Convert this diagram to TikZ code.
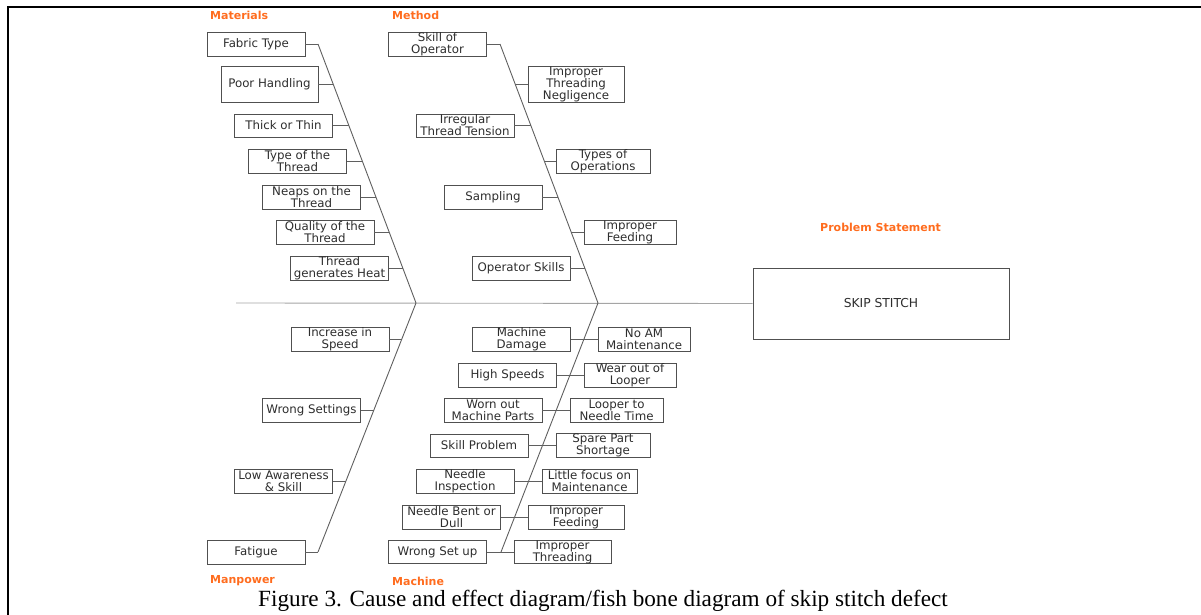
\documentclass[tikz,border=0pt]{standalone}
\usepackage{fontspec}
\setmainfont{DejaVu Sans}
\newfontfamily\capfont{Liberation Serif}
\definecolor{lbl}{RGB}{255,108,30}
\definecolor{txt}{RGB}{45,45,45}
\definecolor{brd}{RGB}{80,80,80}
\definecolor{bone}{RGB}{95,95,95}
\definecolor{mainln}{RGB}{165,165,165}
\tikzset{
  bx/.style={draw=brd, line width=0.9pt, text=txt, align=center, inner sep=0pt,
    minimum width=98pt, minimum height=24pt, font=\fontsize{11.8}{12}\selectfont},
  catlbl/.style={anchor=west, text=lbl, inner sep=0pt, font=\fontsize{11}{13}\selectfont\bfseries},
  bonel/.style={draw=bone, line width=0.9pt},
}
\begin{document}
\begin{tikzpicture}[x=1pt,y=-1pt]
\useasboundingbox (0,0) rectangle (1201,615);
% frame
\draw[line width=2pt] (7.5,615) -- (7.5,7.5) -- (1201,7.5);

% category labels
\node[catlbl] (lmat) at (210,15) {Materials};
\node[catlbl] (lmet) at (392,15) {Method};
\node[catlbl] (lman) at (210,581) {Manpower};
\node[catlbl] (lmac) at (392,581) {Machine};
\node[catlbl] (lps) at (820,227) {Problem Statement};

% problem box
\node[bx, minimum width=256pt, minimum height=71pt, font=\fontsize{12.3}{14}\selectfont] (ps) at (881,303.5) {SKIP STITCH};

% spine coordinates
\coordinate (st) at (236,303);
\coordinate (A0) at (318,44);   \coordinate (A9) at (416,303);
\coordinate (B0) at (500,44);   \coordinate (B9) at (598,303);
\coordinate (C9) at (318,552);
\coordinate (D9) at (501,552);
\draw[draw=mainln, line width=0.9pt] (st) -- (ps.west);
\draw[bonel] (A0) -- (A9) -- (C9);
\draw[bonel] (B0) -- (B9) -- (D9);

% Materials
\node[bx] (m1) at (256,44) {Fabric Type};
\node[bx, minimum width=97pt, minimum height=36pt] (m2) at (269.5,84) {Poor Handling};
\node[bx, minimum height=23pt] (m3) at (283.5,125.5) {Thick or Thin};
\node[bx] (m4) at (297.5,161) {Type of the\\Thread};
\node[bx] (m5) at (311.5,197) {Neaps on the\\Thread};
\node[bx] (m6) at (325,232) {Quality of the\\Thread};
\node[bx] (m7) at (339.5,268) {Thread\\generates Heat};
\coordinate (a2) at (333.1,84);
\coordinate (a3) at (348.8,125.5);
\coordinate (a4) at (362.3,161);
\coordinate (a5) at (375.9,197);
\coordinate (a6) at (389.1,232);
\coordinate (a7) at (402.8,268);
\draw[bonel] (m1.east) -- (A0);
\draw[bonel] (m2.east) -- (a2);
\draw[bonel] (m3.east) -- (a3);
\draw[bonel] (m4.east) -- (a4);
\draw[bonel] (m5.east) -- (a5);
\draw[bonel] (m6.east) -- (a6);
\draw[bonel] (m7.east) -- (a7);

% Method
\node[bx] (t1) at (437.5,44) {Skill of\\Operator};
\node[bx, minimum width=96pt, minimum height=36pt] (t2) at (576,84) {Improper\\Threading\\Negligence};
\node[bx, minimum height=23pt] (t3) at (465,125.5) {Irregular\\Thread Tension};
\node[bx, minimum width=94pt] (t4) at (603,161) {Types of\\Operations};
\node[bx] (t5) at (493,197) {Sampling};
\node[bx, minimum width=92pt] (t6) at (630,232) {Improper\\Feeding};
\node[bx] (t7) at (521,268) {Operator Skills};
\coordinate (b2) at (515.1,84);
\coordinate (b3) at (530.8,125.5);
\coordinate (b4) at (544.3,161);
\coordinate (b5) at (557.9,197);
\coordinate (b6) at (571.1,232);
\coordinate (b7) at (584.8,268);
\draw[bonel] (t1.east) -- (B0);
\draw[bonel] (b2) -- (t2.west);
\draw[bonel] (t3.east) -- (b3);
\draw[bonel] (b4) -- (t4.west);
\draw[bonel] (t5.east) -- (b5);
\draw[bonel] (b6) -- (t6.west);
\draw[bonel] (t7.east) -- (b7);

% Manpower
\node[bx] (p1) at (340,339) {Increase in\\Speed};
\node[bx] (p2) at (311.5,410) {Wrong Settings};
\node[bx] (p3) at (283.5,481) {Low Awareness\\\& Skill};
\node[bx] (p4) at (256,552) {Fatigue};
\coordinate (c1) at (401.8,339);
\coordinate (c2) at (373.9,410);
\coordinate (c3) at (345.9,481);
\draw[bonel] (p1.east) -- (c1);
\draw[bonel] (p2.east) -- (c2);
\draw[bonel] (p3.east) -- (c3);
\draw[bonel] (p4.east) -- (C9);

% Machine
\node[bx] (d1) at (521.5,339) {Machine\\Damage};
\node[bx, minimum width=92pt] (e1) at (644,339) {No AM\\Maintenance};
\node[bx] (d2) at (507.5,375) {High Speeds};
\node[bx, minimum width=92pt] (e2) at (630,375) {Wear out of\\Looper};
\node[bx] (d3) at (493,410) {Worn out\\Machine Parts};
\node[bx, minimum width=93pt] (e3) at (616.5,410) {Looper to\\Needle Time};
\node[bx, minimum height=23pt] (d4) at (479,445.5) {Skill Problem};
\node[bx, minimum width=94pt, minimum height=23pt] (e4) at (603,445.5) {Spare Part\\Shortage};
\node[bx] (d5) at (465,481) {Needle\\Inspection};
\node[bx, minimum width=95pt] (e5) at (589.5,481) {Little focus on\\Maintenance};
\node[bx] (d6) at (451.5,517) {Needle Bent or\\Dull};
\node[bx, minimum width=96pt] (e6) at (576,517) {Improper\\Feeding};
\node[bx, minimum height=23pt] (d7) at (437.5,552) {Wrong Set up};
\node[bx, minimum width=97pt, minimum height=23pt] (e7) at (562.5,552) {Improper\\Threading};
\draw[bonel] (d1.east) -- (e1.west);
\draw[bonel] (d2.east) -- (e2.west);
\draw[bonel] (d3.east) -- (e3.west);
\draw[bonel] (d4.east) -- (e4.west);
\draw[bonel] (d5.east) -- (e5.west);
\draw[bonel] (d6.east) -- (e6.west);
\draw[bonel] (d7.east) -- (e7.west);

% caption
\node[inner sep=0pt, anchor=base, font=\capfont\fontsize{23.2}{26}\selectfont] (cap) at (603,606) {Figure 3. Cause and effect diagram/fish bone diagram of skip stitch defect};
\end{tikzpicture}
\end{document}
